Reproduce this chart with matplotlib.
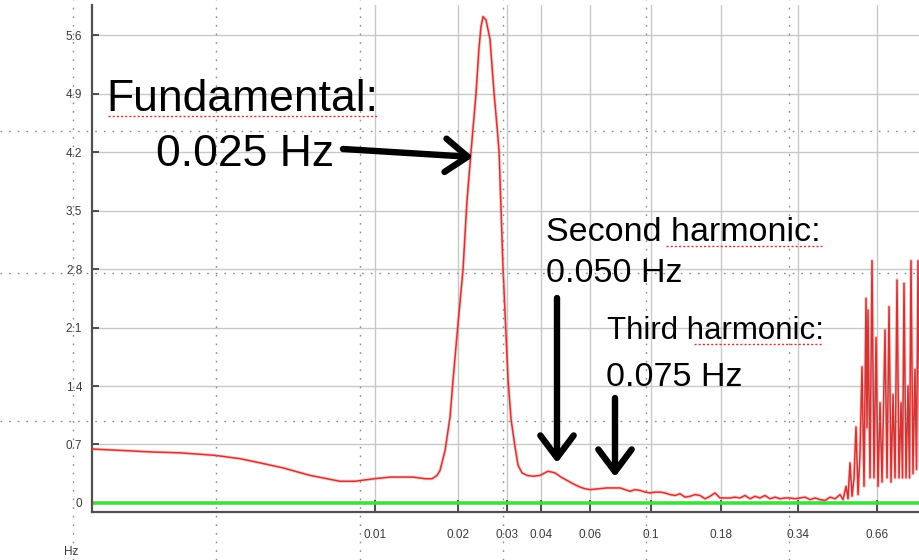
import matplotlib
matplotlib.use("Agg")
import matplotlib.pyplot as plt
from matplotlib.lines import Line2D
from matplotlib.ticker import FixedLocator, FixedFormatter, NullLocator

# ---------------- data ----------------
freq_hz = [
    0.000943, 0.001192, 0.001569, 0.001966, 0.002633, 0.003243, 0.003832, 0.004642,
    0.005813, 0.007466, 0.008464, 0.00992, 0.01133, 0.01373, 0.01518, 0.01609,
    0.01677, 0.01720, 0.01794, 0.01870, 0.01917, 0.01999, 0.02084, 0.02154,
    0.02227, 0.02322, 0.02381, 0.02421, 0.02462, 0.02524, 0.02610, 0.02700,
    0.02768, 0.02815, 0.02862, 0.02910, 0.03034, 0.03111, 0.03216, 0.03298,
    0.03409, 0.03554, 0.03737, 0.03962, 0.04235, 0.04489, 0.04720, 0.04963,
    0.05218, 0.05531, 0.05767, 0.06012, 0.06428, 0.06927, 0.07283, 0.07722,
    0.08051, 0.08395, 0.0875, 0.0913, 0.0952, 0.0992, 0.1034, 0.1078,
    0.1124, 0.1172, 0.1222, 0.1274, 0.1328, 0.1385, 0.1444, 0.1505,
    0.1569, 0.1636, 0.1706, 0.1778, 0.1854, 0.1933, 0.2015, 0.2101,
    0.2191, 0.2284, 0.2381, 0.2483, 0.2589, 0.2699, 0.2814, 0.2934,
    0.3059, 0.3190, 0.3326, 0.3467, 0.3615, 0.3769, 0.3930, 0.4097,
    0.4272, 0.4454, 0.4643, 0.4841, 0.4963, 0.5089, 0.5174, 0.5260,
    0.5349, 0.5439, 0.5531, 0.5624, 0.5719, 0.5815, 0.5913, 0.6012,
    0.6062, 0.6112, 0.6215, 0.6320, 0.6426, 0.6535, 0.6645, 0.6757,
    0.6871, 0.7046, 0.7165, 0.7285, 0.7408, 0.7533, 0.7660, 0.7787,
    0.7918, 0.8052, 0.8153, 0.8254, 0.8393, 0.8534, 0.8642, 0.8750,
    0.8897, 0.9047, 0.9161, 0.9278, 0.9433,
]
amplitude = [
    0.646, 0.63, 0.61, 0.60, 0.57, 0.53, 0.48, 0.42,
    0.33, 0.26, 0.26, 0.29, 0.31, 0.31, 0.29, 0.29,
    0.33, 0.39, 0.63, 1.03, 1.47, 2.15, 2.80, 3.62,
    4.20, 4.90, 5.45, 5.70, 5.82, 5.78, 5.55, 4.90,
    4.50, 4.20, 3.50, 2.80, 1.47, 1.00, 0.67, 0.45,
    0.36, 0.33, 0.32, 0.33, 0.38, 0.36, 0.31, 0.27,
    0.23, 0.19, 0.17, 0.16, 0.17, 0.18, 0.18, 0.18,
    0.16, 0.14, 0.16, 0.15, 0.13, 0.12, 0.13, 0.13,
    0.12, 0.10, 0.09, 0.11, 0.07, 0.08, 0.10, 0.09,
    0.05, 0.08, 0.12, 0.06, 0.06, 0.06, 0.07, 0.06,
    0.09, 0.05, 0.08, 0.06, 0.09, 0.05, 0.07, 0.05,
    0.06, 0.06, 0.05, 0.06, 0.07, 0.04, 0.06, 0.04,
    0.03, 0.07, 0.05, 0.10, 0.04, 0.20, 0.05, 0.48,
    0.08, 0.30, 0.91, 0.10, 0.60, 1.63, 0.20, 2.45,
    0.90, 2.31, 0.30, 2.90, 0.30, 1.98, 0.20, 1.20,
    0.25, 2.07, 0.30, 2.35, 0.25, 1.30, 0.30, 2.67,
    0.30, 1.20, 0.30, 2.63, 0.30, 1.40, 0.30, 2.90,
    0.35, 1.60, 0.40, 2.90, 0.50,
]
baseline_level = 0.0

x_ticks = [0.01, 0.02, 0.03, 0.04, 0.06, 0.1, 0.18, 0.34, 0.66]
x_tick_labels = ["0.01", "0.02", "0.03", "0.04", "0.06", "0.1", "0.18", "0.34", "0.66"]
y_ticks = [0, 0.7, 1.4, 2.1, 2.8, 3.5, 4.2, 4.9, 5.6]
y_tick_labels = ["0", "0.7", "1.4", "2.1", "2.8", "3.5", "4.2", "4.9", "5.6"]

# ---------------- figure ----------------
W, H = 920, 560
fig = plt.figure(figsize=(W / 100, H / 100), dpi=100)
fig.patch.set_facecolor("white")

def fx(px):
    return px / W

def fy(py):
    return 1 - py / H

ax = fig.add_axes([fx(92), fy(512), 1 - fx(92), fy(5) - fy(512)])
ax.set_xscale("log")
ax.set_xlim(0.000943, 0.9433)
ax.set_ylim(-0.108, 5.96)

grid_c = "#c8c8c8"
for yt in y_ticks[1:]:
    ax.axhline(yt, color=grid_c, lw=1.0, zorder=1)
for xt in x_ticks:
    ax.axvline(xt, color=grid_c, lw=1.0, zorder=1)

ax.axhline(baseline_level, color="#3ee03e", lw=2.6, zorder=2)
ax.plot(freq_hz, amplitude, color="#f08080", lw=2.6, alpha=0.35, zorder=3)
ax.plot(freq_hz, amplitude, color="#d33535", lw=1.1, zorder=4)

for s in ["top", "right"]:
    ax.spines[s].set_visible(False)
for s in ["left", "bottom"]:
    ax.spines[s].set_color("#505050")
    ax.spines[s].set_linewidth(1.6)

ax.xaxis.set_major_locator(FixedLocator(x_ticks))
ax.xaxis.set_major_formatter(FixedFormatter(x_tick_labels))
ax.xaxis.set_minor_locator(NullLocator())
ax.yaxis.set_major_locator(FixedLocator(y_ticks))
ax.yaxis.set_major_formatter(FixedFormatter(y_tick_labels))
ax.tick_params(axis="x", direction="in", length=9, width=1.3, color="#404040",
               labelsize=8.5, labelcolor="#3a3a3a", pad=12)
ax.tick_params(axis="y", direction="in", length=5, width=1.3, color="#404040",
               labelsize=8.5, labelcolor="#3a3a3a", pad=7)
for lab in ax.get_xticklabels() + ax.get_yticklabels():
    lab.set_fontfamily("Liberation Sans")

fig.text(fx(64), fy(552), "Hz", fontsize=8.5, color="#3a3a3a",
         family="Liberation Sans", va="center", ha="left")

# slide guide dots (background decoration)
dot_style = dict(color="#8a8a8a", lw=1.0, ls=(0, (1.2, 5)), zorder=5)
for px in [73, 216, 360, 503, 646, 789]:
    fig.add_artist(Line2D([fx(px), fx(px)], [0, 1], transform=fig.transFigure, **dot_style))
for py in [131, 273, 421]:
    fig.add_artist(Line2D([0, 1], [fy(py), fy(py)], transform=fig.transFigure, **dot_style))

# ---------------- annotations ----------------
big = dict(family="Liberation Sans", color="black", va="baseline", ha="left", zorder=10)
fig.text(fx(106), fy(111), "Fundamental:", fontsize=32, **big)
fig.text(fx(156), fy(166), "0.025 Hz", fontsize=32, **big)
fig.text(fx(546), fy(241), "Second harmonic:", fontsize=24.5, **big)
fig.text(fx(546), fy(282), "0.050 Hz", fontsize=24.5, **big)
fig.text(fx(607), fy(339), "Third harmonic:", fontsize=22.5, **big)
fig.text(fx(606), fy(386), "0.075 Hz", fontsize=24.5, **big)

# spell-check underlines
sq = dict(color="#e03030", lw=1.0, ls=(0, (1.5, 1.5)), zorder=11)
for (x0, x1, py) in [(108, 378, 116), (666, 822, 246), (694, 822, 344)]:
    fig.add_artist(Line2D([fx(x0), fx(x1)], [fy(py), fy(py)], transform=fig.transFigure, **sq))

arrow_kw = dict(arrowstyle="->,head_length=0.8,head_width=0.6", color="black",
                lw=4.6, mutation_scale=20, shrinkA=0, shrinkB=0)
for (x0, y0, x1, y1) in [(343, 149, 473, 157), (557, 298, 557, 463), (615, 398, 615, 477)]:
    fig.add_artist(matplotlib.patches.FancyArrowPatch(
        (fx(x0), fy(y0)), (fx(x1), fy(y1)), transform=fig.transFigure, zorder=12, **arrow_kw))

fig.savefig("out.png", dpi=100)
